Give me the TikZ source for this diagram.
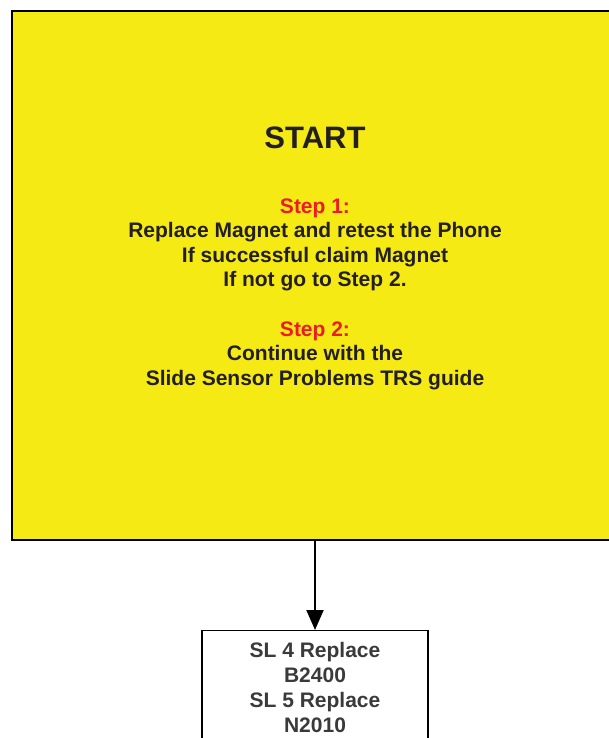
\documentclass[tikz,border=0pt]{standalone}
\usepackage{fontspec}
\setmainfont{Liberation Sans}
\usetikzlibrary{arrows.meta}

\definecolor{boxyellow}{RGB}{245,234,20}
\definecolor{stepred}{RGB}{237,28,36}
\definecolor{inkdark}{RGB}{35,31,32}
\definecolor{inkgray}{RGB}{58,58,58}

\tikzset{
  startbox/.style={draw=black, line width=2pt, fill=boxyellow,
    minimum width=606pt, minimum height=529pt, inner sep=0pt},
  steptext/.style={font=\bfseries\fontsize{21}{24.5}\selectfont,
    text=inkdark, align=center, inner sep=0pt},
  partbox/.style={draw=black, line width=1.2pt, fill=white, align=center,
    font=\bfseries\fontsize{21}{25}\selectfont, text=inkgray,
    minimum width=226pt, inner ysep=12pt},
}

\begin{document}
\begin{tikzpicture}[x=1pt, y=-1pt]
                                    \useasboundingbox (0,0) rectangle (608,738);

                                    % 黄色的开始方框
                                    \node[startbox] (start) at (315,275.5) {};

                                    % 方框内的文字
                                    \node[anchor=base, font=\bfseries\fontsize{31}{36}\selectfont,
                                      text=inkdark] (title) at (315,149) {START};
                                    \node[steptext, anchor=north] (stepone) at (315,198.5)
                                      {\textcolor{stepred}{Step 1:}\\
                                       Replace Magnet and retest the Phone\\
                                       If successful claim Magnet\\
                                       If not go to Step 2.};
                                    \node[steptext, anchor=north] (steptwo) at (315,321.5)
                                      {\textcolor{stepred}{Step 2:}\\
                                       Continue with the\\
                                       Slide Sensor Problems TRS guide};

                                    % 下方的零件方框
                                    \node[partbox, anchor=north] (slbox) at (315,630)
                                      {SL 4 Replace\\B2400\\SL 5 Replace\\N2010};

                                    % 箭头
                                    \draw[-{Triangle[length=20pt,width=17pt]}, line width=2pt]
                                      (start.south) -- (slbox.north);
\end{tikzpicture}
\end{document}
